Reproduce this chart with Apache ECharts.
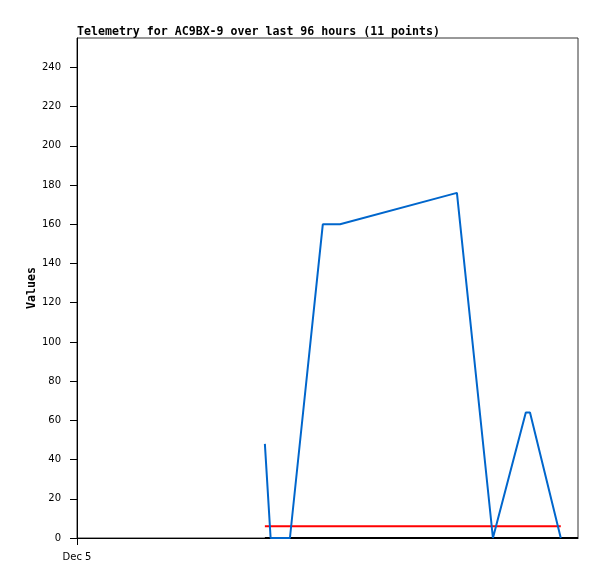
<!DOCTYPE html>
<html>
<head>
<meta charset="utf-8">
<script src="https://cdn.jsdelivr.net/npm/echarts@6/dist/echarts.min.js"></script>
<style>
  html, body { margin: 0; padding: 0; background: #fff; }
  #chart { width: 597px; height: 579px; }
</style>
</head>
<body>
<div id="chart"></div>
<script>
// hours since Dec 5 00:00
var telemetryHours = [36, 37.1, 40.8, 47.1, 50.4, 72.8, 79.7, 86, 86.8, 92.7];
var telemetryValues = [48, 0, 0, 160, 160, 176, 0, 64, 64, 0];
var limitHours = [36, 92.7];
var limitValues = [6, 6];
var baseHours = [36, 96];
var baseValues = [0, 0];
var yTicks = [0, 20, 40, 60, 80, 100, 120, 140, 160, 180, 200, 220, 240];
var xTicks = [0];
var xTickLabels = ["Dec 5"];

function pairs(xs, ys) {
  return xs.map(function (x, i) { return [x, ys[i]]; });
}

var chart = echarts.init(document.getElementById("chart"), null, { renderer: "canvas" });
chart.setOption({
  animation: false,
  title: {
    text: "Telemetry for AC9BX-9 over last 96 hours (11 points)",
    left: 72,
    top: 21,
    textStyle: {
      fontFamily: "DejaVu Sans Mono",
      fontWeight: "bold",
      fontSize: 11.6,
      color: "#000",
    },
  },
  grid: {
    left: 77,
    right: 19,
    top: 38,
    bottom: 41,
    show: true,
    borderColor: "#333",
    borderWidth: 1,
  },
  xAxis: {
    type: "value",
    min: 0,
    max: 96,
    splitLine: { show: false },
    axisLine: { lineStyle: { color: "#000", width: 1 } },
    axisTick: { customValues: xTicks, length: 7, lineStyle: { color: "#000" } },
    axisLabel: {
      customValues: xTicks,
      formatter: function (v) {
        var i = xTicks.indexOf(v);
        return i >= 0 ? xTickLabels[i] : "";
      },
      color: "#000",
      fontFamily: "DejaVu Sans",
      fontSize: 10,
      margin: 14,
    },
  },
  yAxis: {
    type: "value",
    min: 0,
    max: 255,
    name: "Values",
    nameLocation: "middle",
    nameGap: 39,
    nameMoveOverlap: false,
    nameRotate: 90,
    nameTextStyle: {
      fontFamily: "DejaVu Sans Mono",
      fontWeight: "bold",
      fontSize: 11.6,
      color: "#000",
    },
    splitLine: { show: false },
    axisLine: { show: true, lineStyle: { color: "#000", width: 1 } },
    axisTick: { show: true, customValues: yTicks, length: 7, lineStyle: { color: "#000" } },
    axisLabel: {
      customValues: yTicks,
      color: "#000",
      fontFamily: "DejaVu Sans",
      fontSize: 10,
      margin: 16,
    },
  },
  series: [
    {
      type: "line",
      data: pairs(baseHours, baseValues),
      showSymbol: false,
      lineStyle: { color: "#000", width: 2 },
      z: 3,
    },
    {
      type: "line",
      data: pairs(limitHours, limitValues),
      showSymbol: false,
      lineStyle: { color: "#ff0000", width: 2 },
      z: 4,
    },
    {
      type: "line",
      data: pairs(telemetryHours, telemetryValues),
      showSymbol: false,
      lineStyle: { color: "#0066cc", width: 2 },
      z: 5,
    },
  ],
});
</script>
</body>
</html>
